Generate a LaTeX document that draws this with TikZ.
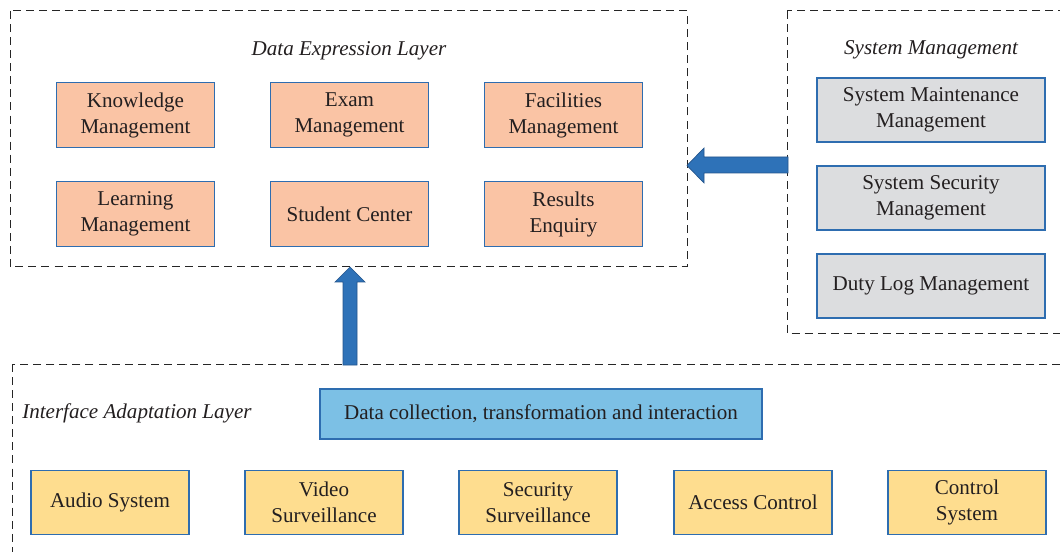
\documentclass[tikz,border=0pt]{standalone}
\usepackage{fontspec}
\setmainfont{Liberation Serif}
\definecolor{orangefill}{HTML}{FAC4A5}
\definecolor{yellowfill}{HTML}{FEDD8F}
\definecolor{grayfill}{HTML}{DCDDDF}
\definecolor{bluefill}{HTML}{7CC0E5}
\definecolor{boxborder}{HTML}{2E6DB0}
\definecolor{arrowfill}{HTML}{2E72B8}
\definecolor{arrowborder}{HTML}{24558C}
\definecolor{txt}{HTML}{231F20}
\tikzset{
  px/.style={x=0.75pt,y=-0.75pt},
  layer/.style={draw=black!85,line width=0.75pt,dash pattern=on 6pt off 3.8pt},
  modbox/.style={draw=boxborder,line width=0.9pt,text=txt,align=center,
    font=\fontsize{15.8}{19.5}\selectfont,inner sep=0pt},
  orangebox/.style={modbox,fill=orangefill,minimum width=118pt,minimum height=49pt},
  yellowbox/.style={modbox,fill=yellowfill,minimum width=118.5pt,minimum height=48.5pt},
  graybox/.style={modbox,fill=grayfill,minimum width=171pt,minimum height=48pt},
  bluebox/.style={modbox,fill=bluefill,minimum width=331.5pt,minimum height=37.5pt},
  layertitle/.style={text=txt,font=\fontsize{15.8}{19.5}\selectfont\itshape,inner sep=0pt},
  blockarrow/.style={fill=arrowfill,draw=arrowborder,line width=0.5pt},
}
\begin{document}
\begin{tikzpicture}[px]
\useasboundingbox (0,0) rectangle (1060,552);
\clip (0,0) rectangle (1060,552);
% layer boxes
\draw[layer] (10,11) rectangle (687,267);
\draw[layer] (787,11) rectangle (1075,333);
\draw[layer] (12,364) rectangle (1075,570);
% titles
\node[layertitle] (delt) at (349,51) {Data Expression Layer};
\node[layertitle] (smt) at (931,50) {System Management};
\node[layertitle,anchor=west] (iat) at (22,413) {Interface Adaptation Layer};
% Data expression modules
\node[orangebox] (km) at (135.5,115) {Knowledge\\Management};
\node[orangebox] (em) at (349.5,115) {Exam\\Management};
\node[orangebox] (fm) at (563.5,115) {Facilities\\Management};
\node[orangebox] (lm) at (135.5,214) {Learning\\Management};
\node[orangebox] (sc) at (349.5,214) {Student Center};
\node[orangebox] (re) at (563.5,214) {Results\\Enquiry};
% System management
\node[graybox] (smm) at (931,110) {System Maintenance\\Management};
\node[graybox] (ssm) at (931,198) {System Security\\Management};
\node[graybox] (dlm) at (931,286) {Duty Log Management};
% Interface adaptation
\node[bluebox] (dc) at (541,414) {Data collection, transformation and interaction};
\node[yellowbox] (as) at (110,502.5) {Audio System};
\node[yellowbox] (vs) at (324,502.5) {Video\\Surveillance};
\node[yellowbox] (ss) at (538,502.5) {Security\\Surveillance};
\node[yellowbox] (ac) at (753,502.5) {Access Control};
\node[yellowbox] (cs) at (967,502.5) {Control\\System};
% block arrows
\draw[blockarrow] (788,157) -- (704,157) -- (704,148) -- (687,165.5) -- (704,183) -- (704,173) -- (788,173) -- cycle;
\draw[blockarrow] (343,365) -- (343,282) -- (335,282) -- (350,267) -- (365,282) -- (357,282) -- (357,365) -- cycle;
\end{tikzpicture}
\end{document}
